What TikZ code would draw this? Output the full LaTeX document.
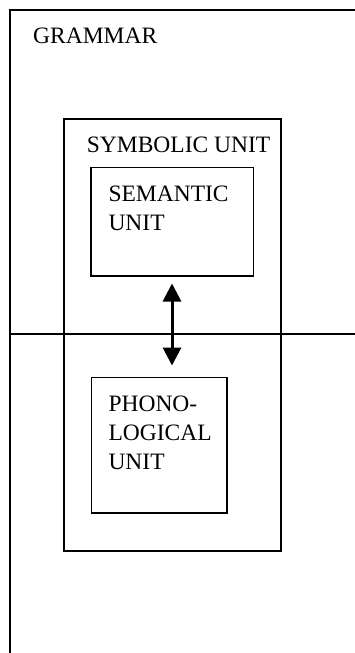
\documentclass[tikz,border=0pt]{standalone}
\usepackage{fontspec}
\setmainfont{Liberation Serif}
\usetikzlibrary{arrows.meta}
\begin{document}
\begin{tikzpicture}[x=1pt,y=-1pt,
  box/.style={draw, line width=1.7pt, inner sep=0pt, anchor=north west},
  lbl/.style={inner sep=0pt, anchor=base west, font=\fontsize{23.5}{28.5}\selectfont},
  frame/.style={line width=2.2pt},
  dbl/.style={line width=3pt, {Triangle[length=18pt,width=18pt]}-{Triangle[length=18pt,width=18pt]}}]
\useasboundingbox (0,0) rectangle (355,653);
% grammar frame
\coordinate (gtr) at (355,10);
\coordinate (gtl) at (10,10);
\coordinate (gbl) at (10,653);
\coordinate (hl) at (10,334);
\coordinate (hr) at (355,334);
\draw[frame] (gtr) -- (gtl) -- (gbl);
\draw[frame] (hl) -- (hr);
\node[lbl] (gram) at (33,43.5) {GRAMMAR};
% symbolic unit
\node[box, minimum width=216.7pt, minimum height=431.7pt] (sym) at (63.3,118.3) {};
\node[lbl] (symlbl) at (86.7,152.3) {SYMBOLIC UNIT};
% semantic unit
\node[box, minimum width=162.7pt, minimum height=108.3pt] (sem) at (90,166.7) {};
\node[lbl] (sem1) at (108.3,201.7) {SEMANTIC};
\node[lbl] (sem2) at (108.3,230.2) {UNIT};
% phonological unit
\node[box, minimum width=135.5pt, minimum height=135.8pt] (pho) at (90.5,376.5) {};
\node[lbl] (pho1) at (108.3,411.7) {PHONO-};
\node[lbl] (pho2) at (108.3,440.7) {LOGICAL};
\node[lbl] (pho3) at (108.3,469.7) {UNIT};
% arrow
\coordinate (atop) at (172,283.5);
\coordinate (abot) at (172,365.5);
\draw[dbl] (atop) -- (abot);
\end{tikzpicture}
\end{document}
